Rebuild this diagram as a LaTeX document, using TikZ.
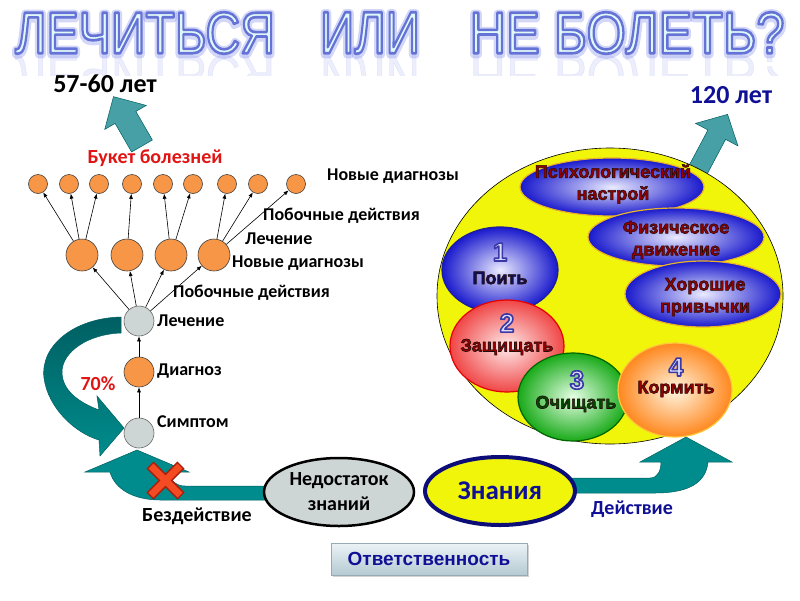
\documentclass[tikz,border=0pt]{standalone}
\usepackage{fontspec}
\setmainfont{Carlito}
\newfontfamily\arialfont{Liberation Sans}
\usetikzlibrary{arrows.meta,shapes.geometric,calc,shadows}

\definecolor{arrowteal}{RGB}{0,140,140}
\definecolor{arrowtealdark}{RGB}{0,95,98}
\definecolor{upteal}{RGB}{70,160,165}
\definecolor{orangeball}{RGB}{247,150,70}
\definecolor{grayball}{RGB}{206,213,213}
\definecolor{worldyellow}{RGB}{240,245,10}
\definecolor{navytext}{RGB}{16,16,150}
\definecolor{labelred}{RGB}{225,20,20}
\definecolor{bubblered}{RGB}{150,0,0}
\definecolor{titlefill}{RGB}{225,248,248}
\definecolor{titleglow}{RGB}{130,140,235}
\definecolor{crossred}{RGB}{245,75,35}
\definecolor{crossdark}{RGB}{170,30,10}

% outlined title word: width, stroke width, stroke colour (pdf rgb), text
\newcommand{\titleword}[4]{\resizebox{#1}{41pt}{\special{pdf:literal direct 1 j #2 w #3 RG 2 Tr}\arialfont #4\special{pdf:literal direct 0 Tr}}}
% heavy bubble text with a dark edge
\newcommand{\heavy}[1]{\special{pdf:literal direct 1 j 0.6 w 0.15 0.05 0.05 RG 2 Tr}#1\special{pdf:literal direct 0 Tr}}

\begin{document}
\begin{tikzpicture}[x=1pt,y=-1pt,
    lbl/.style={font=\fontsize{18}{20}\selectfont\bfseries, inner sep=0pt},
    midlbl/.style={font=\fontsize{20}{22}\selectfont\bfseries, inner sep=0pt},
    biglbl/.style={font=\fontsize{26}{28}\selectfont\bfseries, inner sep=0pt},
    orangedot/.style={circle, draw=black!75, line width=0.6pt, fill=orangeball, inner sep=0pt},
    graydot/.style={circle, draw=black!60, line width=0.6pt, fill=grayball, inner sep=0pt, minimum size=30pt},
    treearrow/.style={-{Latex[length=5pt,width=4pt]}, line width=0.6pt},
    bubble/.style={ellipse, inner sep=0pt, line width=1.2pt},
    bluebubble/.style={bubble, inner color={rgb,255:red,235;green,235;blue,255}, outer color={rgb,255:red,25;green,25;blue,205}},
    bubbletxt/.style={font=\arialfont\fontsize{18}{22}\selectfont\bfseries, align=center, inner sep=0pt},
    numtxt/.style={font=\arialfont\fontsize{26}{28}\selectfont\bfseries, inner sep=0pt},
    blockarrow/.style={fill=upteal, draw=arrowtealdark, line width=0.5pt}]
\useasboundingbox (0,0) rectangle (800,600);

% Title with glow, outline and reflection
\begin{scope}
  \clip (0,55) rectangle (800,75);
  \foreach \c/\w/\t in {145/260pt/ЛЕЧИТЬСЯ, 370/100pt/ИЛИ, 627/315pt/{НЕ БОЛЕТЬ?}}{
    \begin{scope}[shift={(\c,76)}, yscale=-1]
      \node[transform shape, inner sep=0pt, text=titleglow, opacity=0.15] at (0,0) {\titleword{\w}{0.1}{0.5 0.55 0.92}{\t}};
    \end{scope}
  }
\end{scope}
\foreach \c/\w/\t in {145/260pt/ЛЕЧИТЬСЯ, 370/100pt/ИЛИ, 627/315pt/{НЕ БОЛЕТЬ?}}{
  \node[inner sep=0pt, text=titleglow, opacity=0.35] at (\c,34) {\titleword{\w}{1.4}{0.51 0.55 0.92}{\t}};
  \node[inner sep=0pt, text=titlefill] (title-\c) at (\c,33) {\titleword{\w}{0.45}{0.40 0.45 0.84}{\t}};
}

% Arrow to 57-60 years
\begin{scope}[shift={(142,146)}, rotate=120]
  \draw[blockarrow] (0,-12) -- (33,-12) -- (33,-24) -- (57,0) -- (33,24) -- (33,12) -- (0,12) -- cycle;
\end{scope}
\node[biglbl] (age1) at (105,84) {57-60 лет};

% Arrow to 120 years
\begin{scope}[shift={(690,185)}, rotate=62]
  \draw[blockarrow] (0,-10) -- (57,-10) -- (57,-24) -- (80,0) -- (57,24) -- (57,10) -- (0,10) -- cycle;
\end{scope}
\node[biglbl, text=navytext] (age2) at (731,95) {120 лет};

% Tree of treatment
\node[midlbl, text=labelred] (bouquet) at (155,158) {Букет болезней};
\foreach \x [count=\i] in {38,69,99,132,163,193,227,258,296}
  \node[orangedot, minimum size=19pt] (t\i) at (\x,184) {};
\foreach \x [count=\i] in {82,127,171,214}
  \node[orangedot, minimum size=32pt] (m\i) at (\x,255) {};
\node[graydot] (lech) at (139,321) {};
\node[orangedot, minimum size=30pt] (diag) at (139,372) {};
\node[graydot] (symp) at (139,433) {};

\draw[treearrow] (symp) -- (diag);
\draw[treearrow] (diag) -- (lech);
\foreach \i in {1,...,4}
  \draw[treearrow] (lech) -- (m\i);
\foreach \a/\b in {1/1,1/2,1/3,2/4,3/5,3/6,4/7,4/8,4/9}
  \draw[treearrow] (m\a) -- (t\b);

\node[lbl, anchor=west] (newdiag1) at (327,176) {Новые диагнозы};
\node[lbl, anchor=west] (side1) at (263,216) {Побочные действия};
\node[lbl, anchor=west] (treat1) at (245,239) {Лечение};
\node[lbl, anchor=west] (newdiag2) at (232,263) {Новые диагнозы};
\node[lbl, anchor=west] (side2) at (173,293) {Побочные действия};
\node[lbl, anchor=west] (treat2) at (157,321) {Лечение};
\node[lbl, anchor=west] (diaglbl) at (157,371) {Диагноз};
\node[lbl, anchor=west] (symplbl) at (157,422) {Симптом};
\node[midlbl, text=labelred] (pct) at (98,384) {70\%};

% Curved arrow back to the symptom
\draw[top color=arrowtealdark, bottom color=arrowteal, draw=arrowtealdark, line width=0.5pt]
  (121,317) .. controls (75,318) and (40,345) .. (44,378)
  .. controls (48,408) and (75,433) .. (99,440) -- (100,456) -- (124,428) -- (97,396) -- (99,410)
  .. controls (78,402) and (62,390) .. (62,372)
  .. controls (62,352) and (88,334) .. (121,333) -- cycle;

% Inaction arrow (crossed out)
\draw[fill=arrowteal, draw=arrowtealdark, line width=0.5pt]
  (265,486) -- (185,486) .. controls (176,486) and (170,480) .. (168,472) -- (189,472) -- (137,450)
  -- (85,472) -- (110,472) .. controls (115,490) and (135,500) .. (160,500) -- (265,500) -- cycle;
\draw[line width=10pt, crossdark] (150,465) -- (181,496) (181,465) -- (150,496);
\draw[line width=7pt, crossred] (151,466) -- (180,495) (180,466) -- (151,495);
\node[midlbl] (inaction) at (197,516) {Бездействие};

% Action arrow
\draw[fill=arrowteal, draw=arrowtealdark, line width=0.5pt]
  (570,478) -- (650,478) .. controls (658,478) and (661,470) .. (661,462) -- (640,462) -- (686,437)
  -- (732,462) -- (708,462) .. controls (706,482) and (690,493) .. (655,493) -- (570,493) -- cycle;
\node[midlbl, text=navytext] (action) at (632,509) {Действие};

% Knowledge ellipses
\node[ellipse, draw=black, line width=2.5pt, fill=grayball, minimum width=150pt, minimum height=68pt,
      inner sep=0pt, align=center, font=\fontsize{20}{25}\selectfont\bfseries] (lack) at (339,492) {Недостаток\\знаний};
\node[ellipse, draw=navytext!80!black, line width=4pt, fill=worldyellow, minimum width=150pt, minimum height=68pt,
      inner sep=0pt, text=navytext, font=\fontsize{27}{29}\selectfont\bfseries] (knowledge) at (500,491) {Знания};

% Healthy life circle
\node[ellipse, draw=black, line width=0.6pt, fill=worldyellow, minimum width=346pt, minimum height=296pt] (world) at (610,296) {};

\node[bluebubble, draw={rgb,255:red,235;green,180;blue,40}, minimum width=184pt, minimum height=58pt] (psych) at (612,187) {};
\node[bubbletxt, text=bubblered] (psychtxt) at (613,184) {\heavy{Психологический\\настрой}};
\node[bluebubble, draw={rgb,255:red,235;green,180;blue,40}, minimum width=176pt, minimum height=58pt] (phys) at (676,237) {};
\node[bubbletxt, text=bubblered] (phystxt) at (676,240) {\heavy{Физическое\\движение}};
\node[bluebubble, draw={rgb,255:red,235;green,180;blue,40}, minimum width=156pt, minimum height=66pt] (habit) at (703,294) {};
\node[bubbletxt, text=bubblered] (habittxt) at (705,297) {\heavy{Хорошие\\привычки}};

\node[bluebubble, draw={rgb,255:red,30;green,30;blue,150}, minimum width=116pt, minimum height=86pt] (drink) at (500,270) {};
\node[bubble, draw={rgb,255:red,230;green,0;blue,0}, inner color={rgb,255:red,255;green,235;blue,235},
      outer color={rgb,255:red,240;green,70;blue,70}, minimum width=114pt, minimum height=92pt] (protect) at (507,346) {};
\node[bubble, draw={rgb,255:red,0;green,100;blue,0}, inner color={rgb,255:red,230;green,255;blue,230},
      outer color={rgb,255:red,25;green,170;blue,25}, minimum width=110pt, minimum height=88pt] (clean) at (573,397) {};
\node[bubble, draw={rgb,255:red,255;green,200;blue,60}, inner color={rgb,255:red,255;green,245;blue,225},
      outer color={rgb,255:red,255;green,135;blue,30}, minimum width=114pt, minimum height=94pt] (feed) at (675,390) {};

\foreach \p/\n in {{500,252}/1, {507,323}/2, {577,380}/3, {676,367}/4}
  \node[numtxt, text={rgb,255:red,220;green,220;blue,250}] (num\n) at (\p)
    {\special{pdf:literal direct 1 j 1.6 w 0.22 0.22 0.65 RG 2 Tr}\n\special{pdf:literal direct 0 Tr}};
\node[bubbletxt, text={rgb,255:red,16;green,16;blue,90}] (drinktxt) at (500,278) {\heavy{Поить}};
\node[bubbletxt, text=bubblered] (protecttxt) at (507,347) {\heavy{Защищать}};
\node[bubbletxt, text={rgb,255:red,0;green,75;blue,0}] (cleantxt) at (576,404) {\heavy{Очищать}};
\node[bubbletxt, text=bubblered] (feedtxt) at (676,389) {\heavy{Кормить}};

% Responsibility button
\node[rectangle, draw={rgb,255:red,150;green,170;blue,180}, line width=0.5pt,
      top color={rgb,255:red,236;green,243;blue,246}, bottom color={rgb,255:red,180;green,202;blue,210},
      drop shadow={opacity=0.35}, minimum width=196pt, minimum height=32pt,
      text=navytext, font=\arialfont\fontsize{19}{21}\selectfont\bfseries] (resp) at (429,559) {Ответственность};
\end{tikzpicture}
\end{document}
